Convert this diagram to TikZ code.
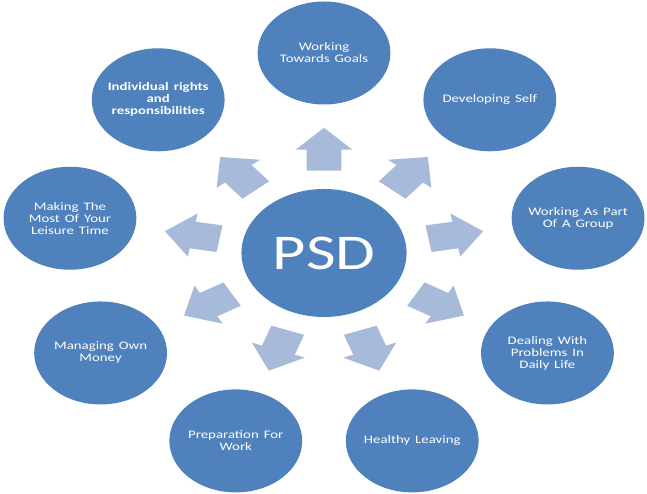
\documentclass[tikz,border=0pt]{standalone}
\usepackage{fontspec}
\setmainfont{Carlito}
\usetikzlibrary{calc,shapes.arrows}
\definecolor{psdblue}{HTML}{4F81BD}
\definecolor{arrowblue}{HTML}{A8BAD9}

\begin{document}
\begin{tikzpicture}[
  x=1pt, y=1pt, xscale=1.29, transform shape,
  topic/.style={circle, fill=psdblue, text=white, minimum size=103pt, inner sep=0pt, text width=92pt, align=center, font=\fontsize{11.5}{12}\selectfont},
  hub/.style={circle, fill=psdblue, text=white, minimum size=128pt, inner sep=0pt, font=\fontsize{50}{60}\selectfont},
  pointer/.style={single arrow, fill=arrowblue, minimum height=43pt, inner xsep=0pt, inner ysep=13.3pt, single arrow head extend=8.4pt},
]
  \useasboundingbox (-251.2,-241) rectangle (250.4,253);
  \node[hub] (psd) at (0,0) {PSD};
  \node[topic] (goals) at (90:200) {Working\\Towards Goals};
  \node[topic] (self) at (50:200) {Developing Self};
  \node[topic] (group) at (10:200) {Working As Part\\Of A Group};
  \node[topic] (problems) at (-30:200) {Dealing With\\Problems In\\Daily Life};
  \node[topic] (healthy) at (-70:200) {Healthy Leaving};
  \node[topic] (work) at (-110:200) {Preparation For\\Work};
  \node[topic] (money) at (-150:200) {Managing Own\\Money};
  \node[topic] (leisure) at (170:200) {Making The\\Most Of Your\\Leisure Time};
  \node[topic, font=\fontsize{11.5}{12}\selectfont\bfseries] (rights) at (130:200) {Individual rights\\and\\responsibilities};
  \node[pointer, rotate=90] (to-goals) at ($(psd)!0.485!(goals)$) {};
  \node[pointer, rotate=50] (to-self) at ($(psd)!0.485!(self)$) {};
  \node[pointer, rotate=10] (to-group) at ($(psd)!0.485!(group)$) {};
  \node[pointer, rotate=-30] (to-problems) at ($(psd)!0.485!(problems)$) {};
  \node[pointer, rotate=-70] (to-healthy) at ($(psd)!0.485!(healthy)$) {};
  \node[pointer, rotate=-110] (to-work) at ($(psd)!0.485!(work)$) {};
  \node[pointer, rotate=-150] (to-money) at ($(psd)!0.485!(money)$) {};
  \node[pointer, rotate=170] (to-leisure) at ($(psd)!0.485!(leisure)$) {};
  \node[pointer, rotate=130] (to-rights) at ($(psd)!0.485!(rights)$) {};
\end{tikzpicture}
\end{document}
